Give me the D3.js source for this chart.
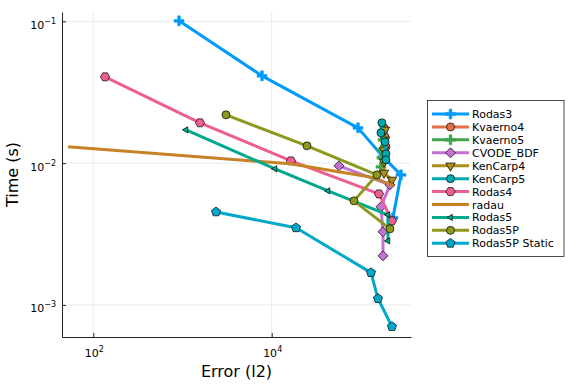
<!DOCTYPE html>
<meta charset="utf-8">
<style>
body { margin: 0; background: #fff; }
text { font-family: "DejaVu Sans", sans-serif; fill: #000; }
</style>
<svg width="576" height="384"></svg>
<script src="https://cdn.jsdelivr.net/npm/d3@7/dist/d3.min.js"></script>
<script>

// series names, colours and marker shapes (Plots.jl default palette)
var names   = ["Rodas3", "Kvaerno4", "Kvaerno5", "CVODE_BDF", "KenCarp4", "KenCarp5",
               "Rodas4", "radau", "Rodas5", "Rodas5P", "Rodas5P Static"];
var colours = ["#009AFA", "#E36F47", "#3EA44E", "#C371D2", "#AC8E18", "#00AAAE",
               "#ED5E93", "#C68225", "#00A98D", "#8E971E", "#00A8CB"];
var shapes  = ["cross", "circle", "cross", "diamond", "dtriangle", "circle",
               "hexagon", "none", "ltriangle", "circle", "pentagon"];

// error (l2) and time (s) per solver
var rodas3Err   = [914, 7790, 92800, 177000, 281600, 229000];
var rodas3Time  = [0.1008, 0.04127, 0.01774, 0.01108, 0.00827, 0.00411];
var kvaerno4Err  = [181600, 186300, 191100, 186300, 186300];
var kvaerno4Time = [0.01774, 0.01533, 0.01303, 0.01144, 0.01055];
var kvaerno5Err  = [177000, 177000, 172000, 172000, 168000];
var kvaerno5Time = [0.01689, 0.01460, 0.01241, 0.01090, 0.00942];
var cvodeErr    = [56830, 212000, 168000, 177000, 177000];
var cvodeTime   = [0.00957, 0.00703, 0.00492, 0.00328, 0.00222];
var kencarp4Err  = [186300, 186300, 181600, 181600, 181600, 223100];
var kencarp4Time = [0.01717, 0.01460, 0.01241, 0.01021, 0.00854, 0.00762];
var kencarp5Err  = [172000, 168000, 186300, 191100, 191100];
var kencarp5Time = [0.01925, 0.01636, 0.01413, 0.01163, 0.01055];
var rodas4Err   = [135.3, 1571, 16460, 159500, 223100];
var rodas4Time  = [0.04061, 0.01925, 0.01038, 0.00607, 0.00392];
var radauErr    = [52.0, 16040, 143900, 229000];
var radauTime   = [0.01303, 0.00989, 0.00788, 0.00692];
var rodas5Err   = [1094, 10890, 42790, 201200, 201200];
var rodas5Time  = [0.01717, 0.00912, 0.00638, 0.00432, 0.00283];
var rodas5pErr  = [3074, 24870, 151500, 83660, 212000];
var rodas5pTime = [0.02191, 0.01324, 0.00827, 0.00542, 0.00344];
var staticErr   = [2375, 18720, 129800, 155500, 223100];
var staticTime  = [0.00453, 0.00350, 0.00169, 0.00111, 0.000704];

var errs  = [rodas3Err, kvaerno4Err, kvaerno5Err, cvodeErr, kencarp4Err, kencarp5Err,
             rodas4Err, radauErr, rodas5Err, rodas5pErr, staticErr];
var times = [rodas3Time, kvaerno4Time, kvaerno5Time, cvodeTime, kencarp4Time, kencarp5Time,
             rodas4Time, radauTime, rodas5Time, rodas5pTime, staticTime];

var xTickPowers = [2, 4];
var yTickPowers = [-3, -2, -1];

var svg = d3.select("svg");
var plotLeft = 62, plotRight = 411, plotTop = 12, plotBottom = 337;

var x = d3.scaleLog().domain([Math.pow(10, 1.649), Math.pow(10, 5.562)]).range([plotLeft, plotRight]);
var y = d3.scaleLog().domain([Math.pow(10, -3.226), Math.pow(10, -0.934)]).range([plotBottom, plotTop]);

// grid
var grid = svg.append("g");
xTickPowers.forEach(function(p) {
  grid.append("line").attr("x1", x(Math.pow(10, p))).attr("x2", x(Math.pow(10, p)))
      .attr("y1", plotTop).attr("y2", plotBottom).attr("stroke", "#e6e6e6").attr("stroke-width", 0.8);
});
yTickPowers.forEach(function(p) {
  grid.append("line").attr("y1", y(Math.pow(10, p))).attr("y2", y(Math.pow(10, p)))
      .attr("x1", plotLeft).attr("x2", plotRight).attr("stroke", "#e6e6e6").attr("stroke-width", 0.8);
});

// axes, ticks pointing inward
var xAxis = svg.append("g").attr("transform", "translate(0," + plotBottom + ")")
  .call(d3.axisBottom(x).tickValues(xTickPowers.map(function(p) { return Math.pow(10, p); }))
        .tickSize(-4).tickSizeOuter(0).tickFormat(""));
var yAxis = svg.append("g").attr("transform", "translate(" + plotLeft + ",0)")
  .call(d3.axisLeft(y).tickValues(yTickPowers.map(function(p) { return Math.pow(10, p); }))
        .tickSize(-4).tickSizeOuter(0).tickFormat(""));
[xAxis, yAxis].forEach(function(a) {
  a.select(".domain").attr("stroke", "#222").attr("stroke-width", 1);
  a.selectAll(".tick line").attr("stroke", "#222");
});

function powerLabel(sel, p) {
  sel.append("tspan").text("10").attr("font-size", 11);
  sel.append("tspan").text(p < 0 ? "\u2212" + (-p) : p)
     .attr("font-size", 8).attr("dy", -5);
}
xTickPowers.forEach(function(p) {
  var t = svg.append("text").attr("x", x(Math.pow(10, p)) + 1).attr("y", 357)
    .attr("text-anchor", "middle");
  powerLabel(t, p);
});
yTickPowers.forEach(function(p) {
  var t = svg.append("text").attr("x", 56).attr("y", y(Math.pow(10, p)) + 7.5)
    .attr("text-anchor", "end");
  powerLabel(t, p);
});

svg.append("text").attr("x", (plotLeft + plotRight) / 2).attr("y", 377)
  .attr("text-anchor", "middle").attr("font-size", 16).text("Error (l2)");
svg.append("text").attr("transform", "translate(18," + ((plotTop + plotBottom) / 2) + ") rotate(-90)")
  .attr("text-anchor", "middle").attr("font-size", 16).text("Time (s)");

// marker shapes
function polygon(n, r, rot) {
  var pts = [];
  for (var i = 0; i < n; i++) {
    var a = rot + i * 2 * Math.PI / n;
    pts.push([r * Math.cos(a), r * Math.sin(a)]);
  }
  return "M" + pts.map(function(q) { return q[0].toFixed(2) + "," + q[1].toFixed(2); }).join("L") + "Z";
}
function markerPath(shape) {
  if (shape == "circle") return d3.symbol().type(d3.symbolCircle).size(Math.PI * 16)();
  if (shape == "diamond") return polygon(4, 5, -Math.PI / 2);
  if (shape == "dtriangle") return polygon(3, 5.5, Math.PI / 2);
  if (shape == "ltriangle") return polygon(3, 3.6, Math.PI);
  if (shape == "hexagon") return polygon(6, 4.6, 0);
  if (shape == "pentagon") return polygon(5, 4.8, -Math.PI / 2);
  if (shape == "cross") {
    var a = 5, w = 1.4;
    return "M" + (-w) + "," + (-a) + "H" + w + "V" + (-w) + "H" + a + "V" + w + "H" + w +
           "V" + a + "H" + (-w) + "V" + w + "H" + (-a) + "V" + (-w) + "H" + (-w) + "Z";
  }
  return null;
}
function drawMarker(g, shape, colour, cx, cy) {
  var d = markerPath(shape);
  if (!d) return;
  g.append("path").attr("d", d).attr("transform", "translate(" + cx + "," + cy + ")")
    .attr("fill", colour)
    .attr("stroke", shape == "cross" ? colour : "#000")
    .attr("stroke-width", shape == "cross" ? 0.5 : 0.7);
}

// series
var line = d3.line().x(function(d) { return x(d[0]); }).y(function(d) { return y(d[1]); });
var plot = svg.append("g");
names.forEach(function(name, i) {
  var pts = errs[i].map(function(e, j) { return [e, times[i][j]]; });
  var g = plot.append("g");
  g.append("path").attr("d", line(pts)).attr("fill", "none")
    .attr("stroke", colours[i]).attr("stroke-width", 3).attr("stroke-linejoin", "round");
  pts.forEach(function(p) { drawMarker(g, shapes[i], colours[i], x(p[0]), y(p[1])); });
});

// legend
var legX = 427.5, legY = 100.5, rowH = 12.93;
var legend = svg.append("g");
legend.append("rect").attr("x", legX).attr("y", legY).attr("width", 136.5).attr("height", 156)
  .attr("fill", "#fff").attr("stroke", "#222").attr("stroke-width", 0.8);
names.forEach(function(name, i) {
  var cy = 114 + i * rowH;
  legend.append("line").attr("x1", 432).attr("x2", 469).attr("y1", cy).attr("y2", cy)
    .attr("stroke", colours[i]).attr("stroke-width", 3);
  drawMarker(legend, shapes[i], colours[i], 450.5, cy);
  legend.append("text").attr("x", 472).attr("y", cy + 4).attr("font-size", 11).text(name);
});

</script>
